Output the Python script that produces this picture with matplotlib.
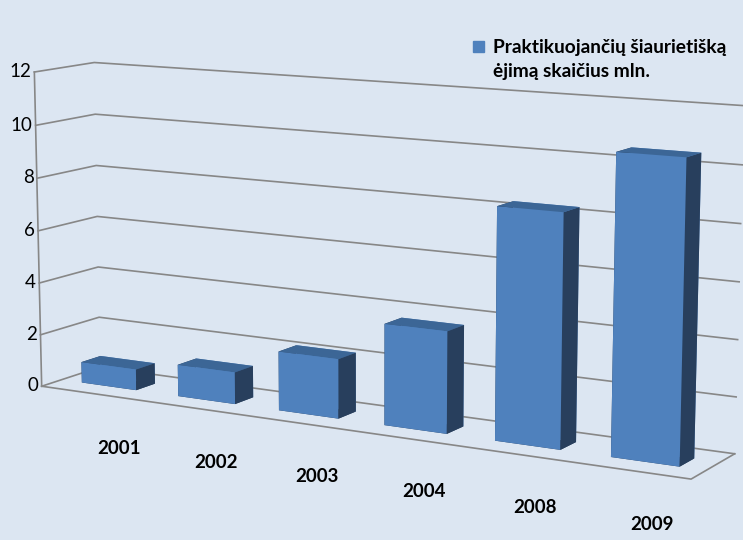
import matplotlib
matplotlib.use("Agg")
import matplotlib.pyplot as plt
from matplotlib.patches import Rectangle
from matplotlib.transforms import offset_copy
from mpl_toolkits.mplot3d import proj3d
import numpy as np

# data
years = ["2001", "2002", "2003", "2004", "2008", "2009"]
walkers_mln = [0.8, 1.2, 2.2, 3.7, 8.3, 10.5]
z_ticks = [0, 2, 4, 6, 8, 10, 12]
legend_lines = ["Praktikuojančių šiaurietišką", "ėjimą skaičius mln."]

BG = "#DCE6F2"
FRONT = "#4F81BD"
TOP = "#3C6696"
SIDE = "#283F5D"
GRID = "#878787"

plt.rcParams["font.family"] = ["Lato", "DejaVu Sans"]

W_PX, H_PX, DPI = 743, 540, 100
fig = plt.figure(figsize=(W_PX / DPI, H_PX / DPI), dpi=DPI, facecolor=BG)

# square 3d axes, placed so the box centre lands at (cx, cy) px from top-left
side = 801
cx, cy = 370, 255
ax = fig.add_axes([(cx - 0.5135 * side) / W_PX, (H_PX - cy - 0.5135 * side) / H_PX,
                   side / W_PX, side / H_PX], projection="3d", computed_zorder=False)
ax.set_facecolor("none")
ax.set_axis_off()
ax.set_proj_type("persp", focal_length=0.603)
ax.view_init(elev=10.4, azim=-60)

n = len(years)
depth = 0.85
x0, x1 = -0.5, n - 0.5
zmax = z_ticks[-1]

# walls: side wall at x0, back wall at y=depth
for z in z_ticks:
    ax.plot([x0, x0, x1], [0, depth, depth], [z, z, z], color=GRID, lw=1.2, zorder=1)
# floor front and right edge, value axis
ax.plot([x0, x1, x1], [0, 0, depth], [0, 0, 0], color=GRID, lw=1.2, zorder=1)
ax.plot([x0, x0], [0, 0], [0, zmax], color=GRID, lw=1.2, zorder=1)

# columns
bw, bd = 0.57, 0.28
by0 = (depth - bd) / 2
xs = np.arange(n) - bw / 2
face_cols = [SIDE, TOP, FRONT, FRONT, SIDE, SIDE] * n
ax.bar3d(xs, np.full(n, by0), np.zeros(n), bw, bd, walkers_mln,
         color=face_cols, shade=False, zorder=2)

ax.set_xlim(x0, x1, view_margin=0)
ax.set_ylim(0, depth, view_margin=0)
ax.set_zlim(0, zmax, view_margin=0)
ax.set_box_aspect((n, depth, zmax * 0.225), zoom=1)


def to2d(x, y, z):
    px, py, _ = proj3d.proj_transform(x, y, z, ax.get_proj())
    return px, py


# value labels beside the front-left edge
for z in z_ticks:
    px, py = to2d(x0 - 0.035, 0, z)
    ax.text2D(px, py, str(z), transform=ax.transData, ha="right", va="center",
              fontsize=13.5, zorder=3)

# category labels: fixed pixel offset from the floor's front edge under each column
cat_trans = offset_copy(ax.transData, fig=fig, x=57, y=-59, units="dots")
for i, yr in enumerate(years):
    px, py = to2d(xs[i], 0, 0)
    ax.text2D(px, py, yr, transform=cat_trans, ha="center", va="center",
              fontsize=13.5, fontweight="bold", zorder=3)

# legend
fig.patches.append(Rectangle((473 / W_PX, 1 - 52 / H_PX), 11 / W_PX, 11 / H_PX,
                             transform=fig.transFigure, color=FRONT))
fig.text(493 / W_PX, 1 - 53 / H_PX, legend_lines[0], fontsize=13.8, fontweight="bold",
         va="baseline")
fig.text(493 / W_PX, 1 - 77 / H_PX, legend_lines[1], fontsize=13.8, fontweight="bold",
         va="baseline")

fig.savefig("out.png", dpi=DPI, facecolor=BG)
